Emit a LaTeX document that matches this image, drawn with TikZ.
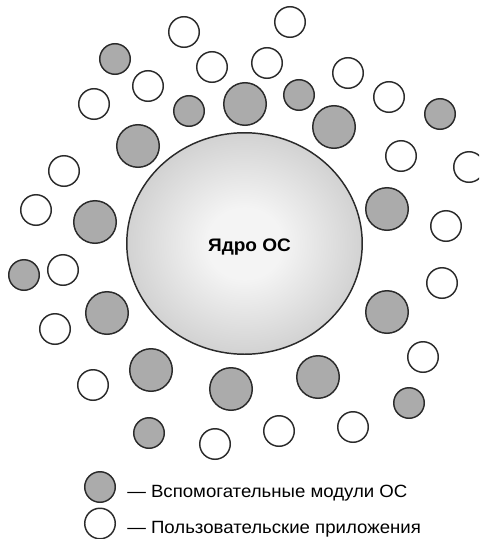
\documentclass[tikz,border=0pt]{standalone}
\usepackage{fontspec}
\setmainfont{Liberation Sans}
\newfontfamily\widesans[FakeStretch=1.05]{Liberation Sans}
\usepackage{xcolor}
\usetikzlibrary{shapes.geometric}
\definecolor{modgray}{HTML}{ABABAB}
\definecolor{rimgray}{HTML}{2B2B2B}
\definecolor{kernelin}{HTML}{F4F4F4}
\definecolor{kernelout}{HTML}{A0A0A0}
\pgfdeclareradialshading{kernelglow}{\pgfpoint{0bp}{0bp}}{%
    color(0bp)=(kernelin); color(8bp)=(kernelin); color(50bp)=(kernelout)}
\tikzset{
    App/.style = {circle,draw=rimgray,line width=1.1pt,fill=white,inner sep=0pt,minimum size=22.9pt},
    Module/.style = {App,fill=modgray},
    BigModule/.style = {Module,minimum size=31.9pt},
    Kernel/.style = {ellipse,draw=rimgray,line width=1.1pt,shading=kernelglow,
         inner sep=0pt,minimum width=176.6pt,minimum height=166.1pt},
    Caption/.style = {anchor=base west,inner sep=0pt,font=\widesans\fontsize{13.3}{15}\selectfont}
}

\begin{document}
\begin{tikzpicture}[x=0.75pt,y=-0.75pt]
        \useasboundingbox (0,0) rectangle (479,539);
        \clip (0,0) rectangle (479,539);
        % the kernel in the middle
        \node[Kernel] (kernel) at (244.5,243.5) {};
        \node[anchor=base,inner sep=0pt,font=\widesans\bfseries\fontsize{13.6}{15}\selectfont]
            (kernellabel) at (249.5,251.7) {Ядро ОС};
        % helper modules, small and large
        \foreach \X/\Y [count=\i] in {115/59,189/111,299/95,440/114,24/275,409/403,149/433}
            {\node[Module] (m\i) at (\X,\Y) {};}
        \foreach \X/\Y [count=\i] in {245/104,334/127,138/146,95/222,107/313,
                                      387/209,387/312,151/370,231/389,318/377}
            {\node[BigModule] (b\i) at (\X,\Y) {};}
        % user applications
        \foreach \X/\Y [count=\i] in {184/32,290/22,212/67,267/63,148/86,94/104,348/73,
                                      389/97,401/156,469/167,64/171,36/210,63/270,55/329,
                                      446/226,442/283,423/357,93/385,215/444,279/431,353/427}
            {\node[App] (a\i) at (\X,\Y) {};}
        % legend
        \node[Module] (keymod) at (100,487) {};
        \node[App] (keyapp) at (100,523.5) {};
        \node[Caption] (keymodtext) at (127,497.3) {— Вспомогательные модули ОС};
        \node[Caption] (keyapptext) at (127,533.3) {— Пользовательские приложения};
\end{tikzpicture}
\end{document}
